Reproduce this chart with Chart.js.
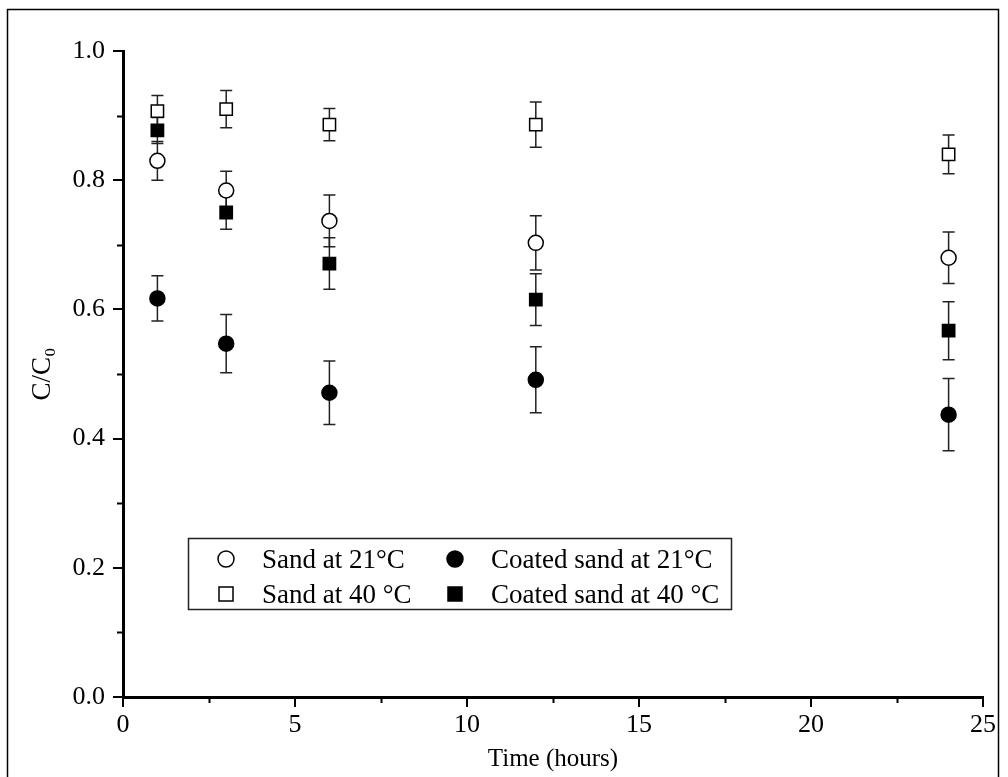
<!DOCTYPE html>
<html>
<head>
<meta charset="utf-8">
<script src="https://cdn.jsdelivr.net/npm/chart.js@4.4.0/dist/chart.umd.min.js"></script>
<style>
  body { margin: 0; background: #fff; }
</style>
</head>
<body>
<canvas id="grafico" width="1008" height="777"></canvas>
<script>
// data
const hours = [1, 3, 6, 12, 24];

const sand21 = [0.830, 0.784, 0.737, 0.703, 0.680];
const sand21Err = [0.030, 0.030, 0.040, 0.042, 0.040];

const coated21 = [0.617, 0.547, 0.471, 0.491, 0.437];
const coated21Err = [0.035, 0.045, 0.049, 0.051, 0.056];

const sand40 = [0.907, 0.910, 0.886, 0.886, 0.840];
const sand40Err = [0.024, 0.029, 0.025, 0.035, 0.030];

const coated40 = [0.877, 0.750, 0.671, 0.615, 0.567];
const coated40Err = [0.020, 0.026, 0.040, 0.040, 0.045];

const xMinorTicks = [2.5, 7.5, 12.5, 17.5, 22.5];
const yMinorTicks = [0.1, 0.3, 0.5, 0.7, 0.9];

const FONT = 'Liberation Serif';
Chart.defaults.font.family = FONT;
Chart.defaults.color = '#000';

function points(vals) {
    return hours.map(function (h, i) { return { x: h, y: vals[i] }; });
}

// error bars, drawn under the markers
const errorBars = {
    id: 'errorBars',
    beforeDatasetsDraw(chart) {
        const ctx = chart.ctx;
        const xs = chart.scales.x, ys = chart.scales.y;
        ctx.save();
        ctx.strokeStyle = '#222';
        ctx.lineWidth = 1.5;
        chart.data.datasets.forEach(function (ds) {
            ds.data.forEach(function (p, i) {
                const px = xs.getPixelForValue(p.x);
                const top = ys.getPixelForValue(p.y + ds.errors[i]);
                const bot = ys.getPixelForValue(p.y - ds.errors[i]);
                ctx.beginPath();
                ctx.moveTo(px, top); ctx.lineTo(px, bot);
                ctx.moveTo(px - 6, top); ctx.lineTo(px + 6, top);
                ctx.moveTo(px - 6, bot); ctx.lineTo(px + 6, bot);
                ctx.stroke();
            });
        });
        ctx.restore();
    }
};

// minor ticks, outer frame and the boxed legend
const extras = {
    id: 'extras',
    afterDraw(chart) {
        const ctx = chart.ctx;
        const xs = chart.scales.x, ys = chart.scales.y;
        const area = chart.chartArea;
        ctx.save();
        ctx.strokeStyle = '#000';
        ctx.lineWidth = 2;
        ctx.beginPath();
        xMinorTicks.forEach(function (v) {
            const px = Math.round(xs.getPixelForValue(v)) + 0.5;
            ctx.moveTo(px, area.bottom); ctx.lineTo(px, area.bottom + 6);
        });
        yMinorTicks.forEach(function (v) {
            const py = Math.round(ys.getPixelForValue(v)) + 0.5;
            ctx.moveTo(area.left, py); ctx.lineTo(area.left - 6, py);
        });
        ctx.stroke();

        // frame round the whole figure
        ctx.lineWidth = 1.5;
        ctx.strokeRect(7.5, 9.5, 991, 800);

        // legend
        ctx.lineWidth = 1.5;
        ctx.strokeStyle = '#222';
        ctx.fillStyle = '#fff';
        ctx.fillRect(188, 538, 543, 71);
        ctx.strokeRect(188.5, 538.5, 543, 71);

        const items = [
            { text: 'Sand at 21\u00B0C', shape: 'circle', fill: false, x: 226, y: 559 },
            { text: 'Coated sand at 21\u00B0C', shape: 'circle', fill: true, x: 455, y: 559 },
            { text: 'Sand at 40 \u00B0C', shape: 'rect', fill: false, x: 226, y: 594 },
            { text: 'Coated sand at 40 \u00B0C', shape: 'rect', fill: true, x: 455, y: 594 }
        ];
        ctx.font = '27px "' + FONT + '"';
        ctx.textBaseline = 'alphabetic';
        items.forEach(function (it) {
            ctx.beginPath();
            if (it.shape === 'circle') {
                ctx.arc(it.x, it.y, 8, 0, Math.PI * 2);
            } else {
                ctx.rect(it.x - 7, it.y - 7, 14, 14);
            }
            ctx.fillStyle = it.fill ? '#000' : '#fff';
            ctx.fill();
            ctx.strokeStyle = '#000';
            ctx.lineWidth = 1.5;
            ctx.stroke();
            ctx.fillStyle = '#000';
            ctx.fillText(it.text, it.x + 36, it.y + 9);
        });
        ctx.restore();
    }
};

function series(label, vals, errs, style, filled, radius) {
    return {
        label: label,
        data: points(vals),
        errors: errs,
        pointStyle: style,
        pointRadius: radius,
        pointHoverRadius: radius,
        pointBorderWidth: 1.5,
        borderColor: '#000',
        pointBorderColor: '#000',
        pointBackgroundColor: filled ? '#000' : '#fff',
        showLine: false
    };
}

new Chart(document.getElementById('grafico'), {
    type: 'scatter',
    data: {
        datasets: [
            series('Sand at 21\u00B0C', sand21, sand21Err, 'circle', false, 7.5),
            series('Coated sand at 21\u00B0C', coated21, coated21Err, 'circle', true, 7.5),
            series('Sand at 40 \u00B0C', sand40, sand40Err, 'rect', false, 8.7),
            series('Coated sand at 40 \u00B0C', coated40, coated40Err, 'rect', true, 8.7)
        ]
    },
    options: {
        responsive: false,
        animation: false,
        devicePixelRatio: 1,
        layout: { padding: { top: 51, right: 25, left: 0, bottom: 0 } },
        plugins: {
            legend: { display: false },
            tooltip: { enabled: false }
        },
        scales: {
            x: {
                type: 'linear',
                min: 0,
                max: 25,
                afterFit: function (scale) { scale.height = 80; },
                ticks: { stepSize: 5, padding: 3, font: { size: 26 }, color: '#000' },
                grid: { drawOnChartArea: false, drawTicks: true, tickLength: 10, color: '#000', lineWidth: 2 },
                border: { display: true, color: '#000', width: 3 },
                title: { display: true, text: 'Time (hours)', font: { size: 25 }, color: '#000', padding: { top: 0, bottom: 3 } }
            },
            y: {
                min: 0,
                max: 1,
                afterFit: function (scale) { scale.width = 123; },
                ticks: {
                    stepSize: 0.2,
                    padding: 8,
                    font: { size: 26 },
                    color: '#000',
                    callback: function (v) { return v.toFixed(1); }
                },
                grid: { drawOnChartArea: false, drawTicks: true, tickLength: 10, color: '#000', lineWidth: 2 },
                border: { display: true, color: '#000', width: 3 },
                title: { display: true, text: 'C/C\u2080', font: { size: 27 }, color: '#000', padding: { top: 27, bottom: 0 } }
            }
        }
    },
    plugins: [errorBars, extras]
});
</script>
</body>
</html>
